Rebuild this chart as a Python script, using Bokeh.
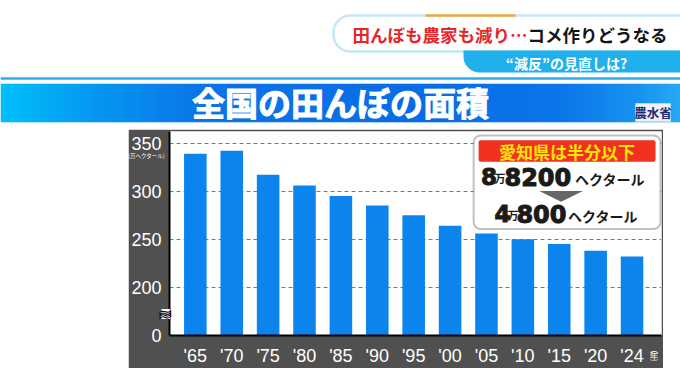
from bokeh.plotting import figure
from bokeh.models import Range1d, FixedTicker, BoxAnnotation, Label, Spacer, GridBox
from bokeh.layouts import column, row
from bokeh.embed import file_html
from bokeh.resources import INLINE
import numpy as np

# ---------------- data ----------------
years = ["'65", "'70", "'75", "'80", "'85", "'90", "'95", "'00", "'05", "'10", "'15", "'20", "'24"]
area = [339, 342, 317, 306, 295, 285, 275, 264, 256, 250, 245, 238, 232]   # 万ヘクタール
ytick_values = [0, 200, 250, 300, 350]
y_break = 150          # axis is broken between 0 and 200
y_unit = "(万ヘクタール)"

JP = "Noto Sans CJK JP"
NUM = "Liberation Sans"

def lab(fig, x, y, text, size, color, align="center", font=JP, bold=True, outline=None, baseline="middle"):
    kw = dict(text_outline_color=outline) if outline else {}
    fig.add_layout(Label(x=x, y=y, text=text, text_align=align, text_baseline=baseline, text_font=font,
                         text_font_size=size, text_font_style="bold" if bold else "normal",
                         text_color=color, **kw))

# ---------------- header figure (pixel-like coordinates) ----------------
h = figure(width=680, height=129, x_range=Range1d(0, 680), y_range=Range1d(129, 0),
           x_axis_type=None, y_axis_type=None, toolbar_location=None,
           output_backend="svg", min_border=0, outline_line_color=None,
           background_fill_color="white", border_fill_color="white")

h.quad(left=0, right=680, top=76.8, bottom=79.3, fill_color="#2eaee8", line_color=None)

stops_x = [0, 90, 200, 420, 560, 640, 680]
stops_c = [(0, 192, 250), (6, 152, 242), (10, 118, 232), (10, 108, 228), (12, 118, 234), (24, 148, 240), (40, 170, 246)]
edges = np.arange(0, 681, 4)
lefts, rights, cols = [], [], []
for a, b in zip(edges[:-1], edges[1:]):
    m = (a + b) / 2
    rgb = [int(np.interp(m, stops_x, [c[i] for c in stops_c])) for i in range(3)]
    lefts.append(a); rights.append(b + 0.6)
    cols.append("#%02x%02x%02x" % tuple(rgb))
h.quad(left=lefts, right=rights, top=83.3, bottom=121.8, fill_color=cols, line_color=None)

h.add_layout(BoxAnnotation(left=333, right=740, top=15, bottom=51, fill_color="white", fill_alpha=1,
                           line_color="#3ab4e4", line_width=2.5, border_radius=17))
h.add_layout(BoxAnnotation(left=425, right=515, top=13.8, bottom=16.2, fill_color="#f2a93a", fill_alpha=1,
                           line_color=None))
h.add_layout(BoxAnnotation(left=463, right=740, top=50, bottom=72, fill_color="#20b0ec", fill_alpha=1,
                           line_color=None,
                           border_radius=dict(top_left=0, top_right=0, bottom_right=0, bottom_left=16)))

lab(h, 527, 34, "田んぼも農家も減り…", "17.5px", "#e5262b", align="right")
lab(h, 527, 34, "コメ作りどうなる", "17.5px", "#151515", align="left")
lab(h, 566, 62, "“減反”の見直しは?", "14px", "white")
lab(h, 340, 101.5, "全国の田んぼの面積", "33px", "white", outline="white")
h.add_layout(BoxAnnotation(left=635, right=670, top=103, bottom=121, fill_color="#eef2fb", fill_alpha=1,
                           line_color="white", line_width=1))
lab(h, 652.5, 112.3, "農水省", "12.5px", "#1b2a78")

# ---------------- chart figure ----------------
XR = (-0.71, 12.81)
YR = (0, 212)
c = figure(width=535, height=239, x_range=Range1d(*XR), y_range=Range1d(*YR),
           toolbar_location=None, output_backend="svg",
           min_border_left=38, min_border_right=2, min_border_top=2, min_border_bottom=28,
           background_fill_color="white", border_fill_color="#505050", outline_line_color=None)

xs = list(range(len(years)))
c.vbar(x=xs, top=[v - y_break for v in area], bottom=0, width=0.62, fill_color="#0b84ee", line_color=None)

disp = [0 if v == 0 else v - y_break for v in ytick_values]
c.yaxis.ticker = FixedTicker(ticks=disp)
c.yaxis.major_label_overrides = {d: str(v) for d, v in zip(disp, ytick_values)}
c.xaxis.ticker = FixedTicker(ticks=xs)
c.xaxis.major_label_overrides = {i: lb for i, lb in zip(xs, years)}
for ax in (c.xaxis[0], c.yaxis[0]):
    ax.axis_line_color = "black"
    ax.axis_line_width = 2
    ax.major_tick_line_color = None
    ax.minor_tick_line_color = None
    ax.major_label_text_color = "white"
    ax.major_label_text_font = NUM
    ax.major_label_text_font_size = "18px"
c.yaxis.major_label_standoff = 2
c.xaxis.major_label_standoff = 4

c.xgrid.visible = False
c.ygrid.ticker = FixedTicker(ticks=[d for d in disp if d > 0])
c.ygrid.grid_line_color = "#7a7a7a"
c.ygrid.grid_line_dash = "4 3"
c.ygrid.grid_line_width = 1

FL, FR, FT, FB = 166, 661, 131, 340
def X(px):
    return XR[0] + (px - FL) / (FR - FL) * (XR[1] - XR[0])
def Y(py):
    return YR[0] + (FB - py) / (FB - FT) * (YR[1] - YR[0])

# callout box
c.add_layout(BoxAnnotation(left=X(472), right=X(660), top=Y(135), bottom=Y(231), fill_color="white",
                           fill_alpha=1, line_color="#333333", line_width=2, border_radius=7))
c.add_layout(BoxAnnotation(left=X(477), right=X(655), top=Y(140), bottom=Y(162), fill_color="#f0321e",
                           fill_alpha=1, line_color=None, border_radius=2))
lab(c, X(566), Y(151.5), "愛知県は半分以下", "17px", "#ffe600")
c.patch(x=[X(538), X(582), X(560)], y=[Y(192), Y(192), Y(203)], fill_color="#666666",
        line_color=None, level="overlay")

INK = "#1a1a1a"
lab(c, X(479.5), Y(177.5), "8", "23px", INK, align="left", font="DejaVu Sans", outline=INK)
lab(c, X(493), Y(179), "万", "11px", INK, align="left")
lab(c, X(503), Y(177.5), "8200", "24px", INK, align="left", font="DejaVu Sans", outline=INK)
lab(c, X(574), Y(180), "ヘクタール", "14px", INK, align="left")
lab(c, X(493), Y(215.5), "4", "23px", INK, align="left", font="DejaVu Sans", outline=INK)
lab(c, X(506), Y(217), "万", "11px", INK, align="left")
lab(c, X(515), Y(215.5), "800", "24px", INK, align="left", font="DejaVu Sans", outline=INK)
lab(c, X(567), Y(217.5), "ヘクタール", "14px", INK, align="left")

base = column(h, row(Spacer(width=128, height=239), c, Spacer(width=17, height=239)),
              Spacer(width=680, height=13))

# ---------------- transparent overlay for texts outside the plot frame ----------------
ov = figure(width=680, height=381, x_range=Range1d(0, 680), y_range=Range1d(381, 0),
            x_axis_type=None, y_axis_type=None, toolbar_location=None, output_backend="svg",
            min_border=0, outline_line_color=None, background_fill_alpha=0, border_fill_alpha=0)
ov.quad(left=161, right=169.5, top=308.5, bottom=318.5, fill_color="white", line_color=None)
lab(ov, 146, 155.5, y_unit, "5.5px", "white", bold=False)
lab(ov, 164.5, 313.5, "≈", "17px", "white", font="DejaVu Sans", outline="black")
for py, t in ((347.5, "︵"), (354.5, "年"), (361.5, "︶")):
    lab(ov, 653.5, py, t, "8.5px", "white", bold=False)

layout = GridBox(children=[(base, 0, 0), (ov, 0, 0)])

open("out.html", "w").write(file_html(layout, INLINE))
